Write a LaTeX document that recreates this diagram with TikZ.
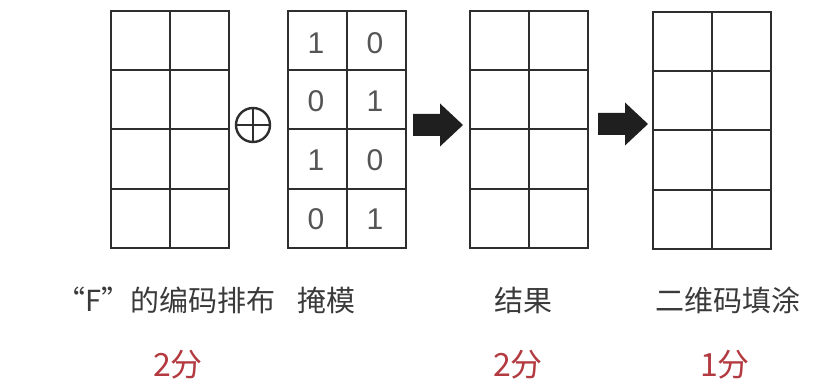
\documentclass[tikz,border=0pt]{standalone}
\usepackage{fontspec}
\newfontfamily\cjk{Noto Sans CJK SC}
\newfontfamily\digitfont{Liberation Sans}
\usetikzlibrary{calc}
\definecolor{linegray}{HTML}{2E2E2E}
\definecolor{labelgray}{HTML}{3A3A3A}
\definecolor{scorered}{HTML}{B23A40}
\definecolor{digitgray}{HTML}{555555}
\tikzset{
  gridbox/.style={draw=linegray, line width=2pt, minimum width=118pt, minimum height=237pt, anchor=north west, inner sep=0pt},
  gridline/.style={draw=linegray, line width=2pt},
  digit/.style={font=\digitfont\fontsize{30}{30}\selectfont, text=digitgray, inner sep=0pt},
  label/.style={font=\cjk\fontsize{29}{29}\selectfont, text=labelgray, inner sep=0pt},
  score/.style={font=\cjk\fontsize{32}{32}\selectfont, text=scorered, inner sep=0pt},
  arrowfill/.style={fill=black!88},
  pics/fatarrow/.style={code={
    \fill[arrowfill] (-25,-11) -- (2,-11) -- (2,-21.5) -- (25,0) -- (2,21.5) -- (2,11) -- (-25,11) -- cycle;
  }}
}
\newcommand{\gridlines}[1]{%
  \draw[gridline] (#1.north) -- (#1.south);
  \foreach \f in {0.25,0.5,0.75}{
    \draw[gridline] ($(#1.north west)!\f!(#1.south west)$) -- ($(#1.north east)!\f!(#1.south east)$);
  }%
}
\begin{document}
\begin{tikzpicture}[x=1pt,y=-1pt]
\useasboundingbox (0,0) rectangle (822,390);
% grids
\node[gridbox] (g1) at (110,10) {};
\gridlines{g1}
\node[gridbox] (g2) at (287,10) {};
\gridlines{g2}
\node[gridbox] (g3) at (469,10) {};
\gridlines{g3}
\node[gridbox] (g4) at (652,11) {};
\gridlines{g4}
% xor symbol
\node[circle, draw=linegray, line width=2.4pt, minimum size=34pt, inner sep=0pt] (xor) at (253,125) {};
\draw[gridline, line width=2.4pt] (xor.north) -- (xor.south);
\draw[gridline, line width=2.4pt] (xor.west) -- (xor.east);
% mask digits
\node[digit] (d11) at (316,43) {1};
\node[digit] (d12) at (375,43) {0};
\node[digit] (d21) at (316,101) {0};
\node[digit] (d22) at (375,101) {1};
\node[digit] (d31) at (316,160) {1};
\node[digit] (d32) at (375,160) {0};
\node[digit] (d41) at (316,219) {0};
\node[digit] (d42) at (375,219) {1};
% arrows
\coordinate (a1) at (438,125);
\pic at (a1) {fatarrow};
\coordinate (a2) at (623,124);
\pic at (a2) {fatarrow};
% labels
\node[label] (l1) at (166,300) {“F”的编码排布};
\node[label] (l2) at (326,300) {掩模};
\node[label] (l3) at (523,300) {结果};
\node[label] (l4) at (728,300) {二维码填涂};
% scores
\node[score] (s1) at (178,365) {2分};
\node[score] (s3) at (518,365) {2分};
\node[score] (s4) at (725,365) {1分};
\end{tikzpicture}
\end{document}
